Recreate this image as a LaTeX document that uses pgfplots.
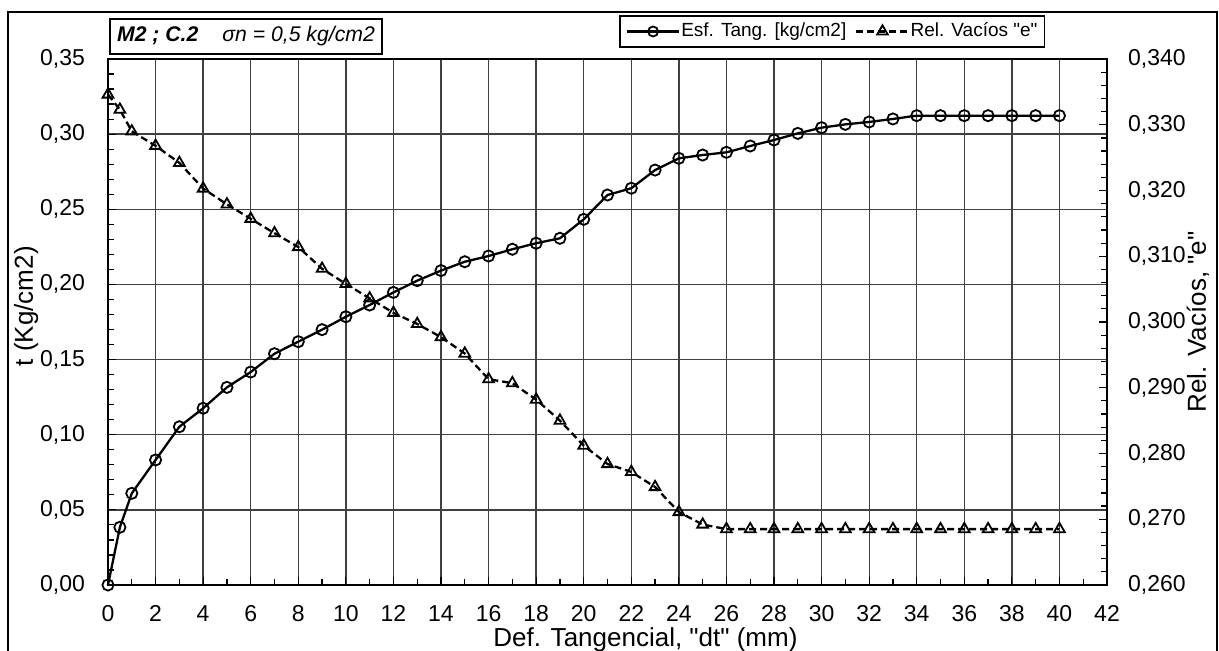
\documentclass[border=0pt]{standalone}
\usepackage{pgfplots}
\pgfplotsset{compat=1.18}
\usepackage{fontspec}
\setmainfont{Liberation Sans}[Ligatures=TeXOff]
\begin{document}
\begin{tikzpicture}
\useasboundingbox (-54pt,-33pt) rectangle (555.5pt,292.5pt);
\draw[line width=0.6pt] (-50pt,-60pt) rectangle (554.5pt,286.5pt);
\pgfplotsset{
  common/.style={
    at={(0,0)}, anchor=south west,
    scale only axis, width=499.5pt, height=263pt,
    xmin=0, xmax=42, clip=false,
    /pgf/number format/assume math mode=true,
    tick label style={font=\fontsize{11.5pt}{13pt}\selectfont},
    tick align=inside,
    major tick length=4pt, minor tick length=3pt,
    every tick/.style={black, line width=0.6pt},
    axis line style={line width=1.2pt},
  },
}
\begin{axis}[common,
  ymin=0, ymax=0.35,
  xtick={0,2,...,42}, minor x tick num=1,
  ytick={0,0.05,0.1,0.15,0.2,0.25,0.3,0.35}, minor y tick num=4,
  xtick pos=bottom, ytick pos=left,
  grid=major, major grid style={black!75, line width=0.65pt},
  yticklabel style={/pgf/number format/.cd, fixed, fixed zerofill, precision=2, use comma, /tikz/.cd, xshift=-8pt},
  xticklabel style={anchor=base, yshift=-18.5pt},
  xlabel={Def. Tangencial, "dt" (mm)},
  ylabel={t (Kg/cm2)},
  every axis x label/.style={at={(axis description cs:0.538,-0.116)}, anchor=base, font=\fontsize{13pt}{15pt}\selectfont},
  every axis y label/.style={at={(axis description cs:-0.082,0.53)}, rotate=90, anchor=center, font=\fontsize{13pt}{15pt}\selectfont},
]
\addplot[black, line width=1.15pt, mark=o, mark size=2.8pt, mark options={line width=0.9pt}] coordinates {
(0,0) (0.5,0.0384) (1,0.061) (2,0.0832) (3,0.1053) (4,0.1176) (5,0.1315) (6,0.1417)
(7,0.1539) (8,0.1619) (9,0.1699) (10,0.1785) (11,0.1863) (12,0.1947) (13,0.2025)
(14,0.2092) (15,0.2151) (16,0.2189) (17,0.2234) (18,0.2274) (19,0.2307) (20,0.2433)
(21,0.2595) (22,0.2640) (23,0.2761) (24,0.2839) (25,0.2861) (26,0.2879) (27,0.2921)
(28,0.2961) (29,0.3005) (30,0.3043) (31,0.3065) (32,0.3081) (33,0.3101) (34,0.3123)
(35,0.3123) (36,0.3123) (37,0.3123) (38,0.3123) (39,0.3123) (40,0.3123)};
\node[draw=black, line width=0.6pt, minimum width=136pt, minimum height=17.5pt, inner sep=0pt, font=\fontsize{10.6pt}{12pt}\selectfont]
  at (axis description cs:0.1381,1.0428) {\bfseries\itshape M2 ; C.2\hspace{12pt}\mdseries σn = 0,5 kg/cm2};
\end{axis}
\begin{axis}[common,
  ymin=0.26, ymax=0.34,
  axis x line=none, axis y line*=right,
  ytick={0.26,0.27,0.28,0.29,0.30,0.31,0.32,0.33,0.34}, minor y tick num=4,
  yticklabel style={/pgf/number format/.cd, fixed, fixed zerofill, precision=3, use comma, /tikz/.cd, xshift=7pt},
  ylabel={Rel. Vacíos, "e"},
  every axis y label/.style={at={(axis description cs:1.091,0.50)}, rotate=90, anchor=center, font=\fontsize{13pt}{15pt}\selectfont},
  legend columns=2,
  legend style={at={(axis description cs:0.938,1.0523)}, anchor=east, draw=black, line width=0.6pt,
    font=\fontsize{9.5pt}{10pt}\selectfont, inner xsep=3pt, inner ysep=1.5pt,
    nodes={inner xsep=0.5pt},
    /tikz/every odd column/.append style={column sep=0pt},
    /tikz/every even column/.append style={column sep=4pt}},
  legend image code/.code={\draw[mark repeat=2,mark phase=2,#1] plot coordinates {(0pt,0pt) (13pt,0pt) (26pt,0pt)};},
]
\addlegendimage{black, line width=1.15pt, mark=o, mark size=2.5pt, mark options={line width=0.9pt}}
\addlegendentry{Esf. Tang. [kg/cm2]}
\addplot[black, line width=1.15pt, dash pattern=on 3.5pt off 2pt, mark=triangle, mark size=3.1pt, mark options={solid, line width=0.9pt}] coordinates {
(0,0.3346) (0.5,0.3323) (1,0.3290) (2,0.3268) (3,0.3242) (4,0.3203) (5,0.3179) (6,0.3157)
(7,0.3135) (8,0.3114) (9,0.3081) (10,0.3058) (11,0.3036) (12,0.3014) (13,0.2997)
(14,0.2977) (15,0.2952) (16,0.2913) (17,0.2907) (18,0.2882) (19,0.2850) (20,0.2812)
(21,0.2784) (22,0.2772) (23,0.2749) (24,0.2711) (25,0.2692) (26,0.2685) (27,0.2685)
(28,0.2685) (29,0.2685) (30,0.2685) (31,0.2685) (32,0.2685) (33,0.2685) (34,0.2685)
(35,0.2685) (36,0.2685) (37,0.2685) (38,0.2685) (39,0.2685) (40,0.2685)};
\addlegendentry{Rel. Vacíos "e"}
\end{axis}
\end{tikzpicture}
\end{document}
